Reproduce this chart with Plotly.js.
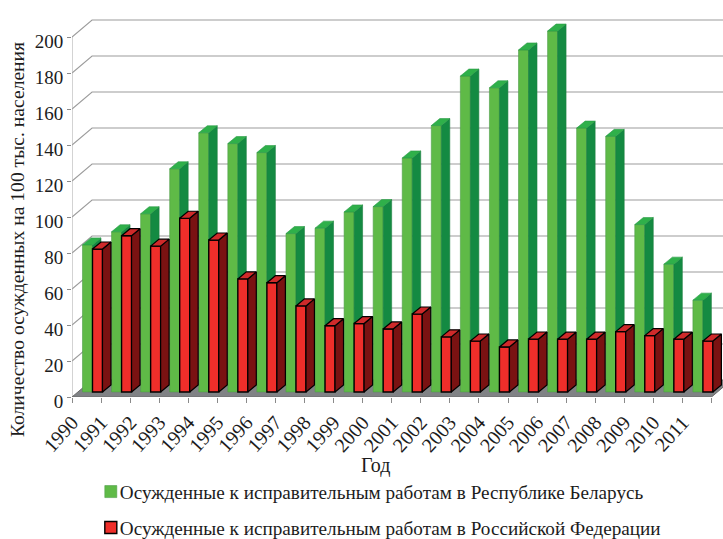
<!DOCTYPE html>
<html>
<head>
<meta charset="utf-8">
<script src="https://cdn.plot.ly/plotly-3.0.1.min.js"></script>
<style>html,body{margin:0;padding:0;background:#fff}#chart{width:723px;height:539px}</style>
</head>
<body>
<div id="chart"></div>
<script>
const years = [1990,1991,1992,1993,1994,1995,1996,1997,1998,1999,2000,2001,2002,2003,2004,2005,2006,2007,2008,2009,2010,2011];
const belarus = [81.7,89,99,124,144,138,133,88,91,100,103,130,148,175.5,169,190,200.5,146.6,142,93,71,51];
const russia = [79.4,86.8,81,96.5,84.4,62.8,60.7,47.8,36.8,38,35,43.3,30.6,28.3,25,29.4,29.3,29.3,33.5,31.3,29.3,28.3];
const yTicks = [0,20,40,60,80,100,120,140,160,180,200];
const nameBelarus = 'Осужденные к исправительным работам в Республике Беларусь';
const nameRussia = 'Осужденные к исправительным работам в Российской Федерации';
const yTitle = 'Количество осужденных на 100 тыс. населения';
const xTitle = 'Год';

const serif = '"Liberation Serif","Times New Roman",serif';
const ink = '#1c1c1c';
const wallDX = 0.69, wallDY = 9.45;     // depth of the chart box, in axis units
const barDX = 0.292, barDY = 3.9;       // depth of a bar, in axis units
const barBase = 2.8, barW = 0.344;
const nSlots = years.length;
const xRange = [0, 22.396], yRange = [0, 210];

function faces(values, offset) {
  const side = {x: [], y: []}, top = {x: [], y: []};
  values.forEach((v, i) => {
    const l = i + offset - barW / 2, r = i + offset + barW / 2, t = barBase + v;
    side.x.push(r, r + barDX, r + barDX, r, r, null);
    side.y.push(barBase, barBase + barDY, t + barDY, t, barBase, null);
    top.x.push(l, l + barDX, r + barDX, r, l, null);
    top.y.push(t, t + barDY, t + barDY, t, t, null);
  });
  return {side, top};
}
function poly(p, fill, line, w, xa, ya) {
  return {type: 'scatter', mode: 'lines', x: p.x, y: p.y, xaxis: xa, yaxis: ya, fill: 'toself',
          fillcolor: fill, line: {color: line, width: w}, hoverinfo: 'skip', showlegend: false};
}

const gridX = [], gridY = [];
yTicks.slice(1).forEach(t => {
  gridX.push(0, wallDX, nSlots + wallDX, null);
  gridY.push(t, t + wallDY, t + wallDY, null);
});

const offG = 0.533, offR = 0.877;
const g = faces(belarus, offG), r = faces(russia, offR);
const traces = [
  {type: 'scatter', mode: 'lines', x: gridX, y: gridY, line: {color: '#9c9c9c', width: 1.1}, hoverinfo: 'skip', showlegend: false},
  {type: 'scatter', mode: 'lines', x: [0, 0], y: [0, yTicks[yTicks.length - 1]], line: {color: '#a8a8a8', width: 1}, hoverinfo: 'skip', showlegend: false},
  poly({x: [0, nSlots, nSlots + wallDX, wallDX, 0], y: [0, 0, wallDY, wallDY, 0]}, '#808285', '#6a6a6a', 1, 'x', 'y'),
  {type: 'bar', name: nameBelarus, legendgroup: 'by', x: years.map((_, i) => i + offG), y: belarus, base: belarus.map(() => barBase), width: barW,
   xaxis: 'x2', yaxis: 'y2', marker: {color: '#5fba47', line: {color: '#4f9e4a', width: 0.6}}, customdata: years,
   hovertemplate: '%{customdata}: %{y}<extra></extra>'},
  poly(g.side, '#148a42', '#1c7f40', 0.6, 'x2', 'y2'),
  poly(g.top, '#2fb04a', '#2a9a46', 0.6, 'x2', 'y2'),
  {type: 'bar', name: nameRussia, legendgroup: 'ru', x: years.map((_, i) => i + offR), y: russia, base: russia.map(() => barBase), width: barW,
   xaxis: 'x3', yaxis: 'y3', marker: {color: '#ef2e2a', line: {color: '#000', width: 1.4}}, customdata: years,
   hovertemplate: '%{customdata}: %{y}<extra></extra>'},
  poly(r.side, '#7a1212', '#000', 1.2, 'x3', 'y3'),
  poly(r.top, '#cf2a2a', '#000', 1.2, 'x3', 'y3')
];
const hidden = (over) => ({overlaying: over, visible: false, fixedrange: true});

const layout = {
  width: 723, height: 539,
  margin: {l: 71.5, r: 0, t: 19, b: 142, autoexpand: false},
  paper_bgcolor: '#fff', plot_bgcolor: 'rgba(0,0,0,0)',
  font: {family: serif, color: ink},
  barmode: 'overlay',
  xaxis: {range: xRange, tickmode: 'array', tickvals: years.map((_, i) => i).concat([nSlots]),
          ticktext: years.map(String).concat(['']), tickangle: -48, ticks: 'outside', ticklen: 5,
          tickcolor: '#8a8a8a', tickfont: {family: serif, size: 20, color: ink},
          showgrid: false, zeroline: false, showline: false, fixedrange: true},
  yaxis: {range: yRange, tickmode: 'array', tickvals: yTicks, ticks: 'outside', ticklen: 4, tickcolor: '#8a8a8a',
          ticklabelshift: 4,
          tickfont: {family: serif, size: 19, color: ink}, showgrid: false, zeroline: false, showline: false, fixedrange: true},
  xaxis2: Object.assign({range: xRange}, hidden('x')),
  yaxis2: Object.assign({range: yRange}, hidden('y')),
  xaxis3: Object.assign({range: xRange}, hidden('x')),
  yaxis3: Object.assign({range: yRange}, hidden('y')),
  legend: {x: 0.012, xanchor: 'left', y: -0.2, yanchor: 'top', bgcolor: 'rgba(0,0,0,0)', traceorder: 'grouped',
           tracegroupgap: 8, font: {family: serif, size: 19.2, color: ink}, itemclick: false, itemdoubleclick: false},
  annotations: [
    {text: yTitle, xref: 'paper', yref: 'paper', x: -0.084, y: 0.416, textangle: -90, showarrow: false,
     font: {family: serif, size: 19.6, color: ink}, xanchor: 'center', yanchor: 'middle'},
    {text: xTitle, xref: 'paper', yref: 'paper', x: 0.466, y: -0.18, showarrow: false,
     font: {family: serif, size: 20, color: ink}, xanchor: 'center', yanchor: 'middle'}
  ]
};
Plotly.newPlot('chart', traces, layout, {displayModeBar: false}).then(gd => {
  const nudge = () => gd.querySelectorAll('.legend .legendpoints').forEach(n => n.setAttribute('transform', 'translate(11,0)'));
  nudge();
  gd.on('plotly_afterplot', nudge);
});
</script>
</body>
</html>
